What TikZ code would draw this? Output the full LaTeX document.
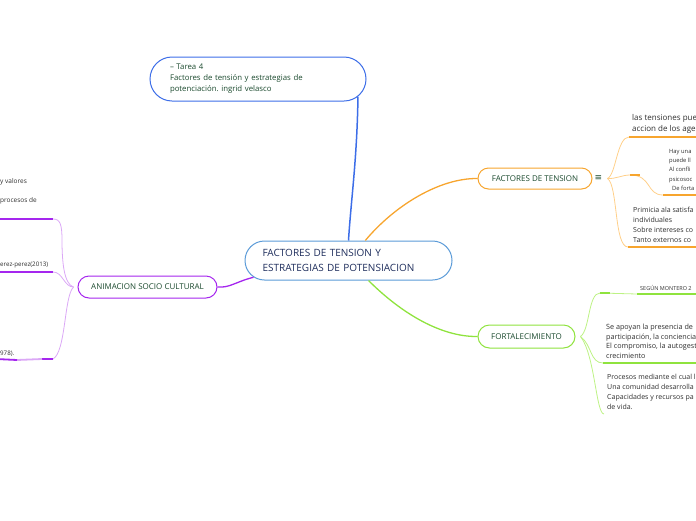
\documentclass[tikz,border=0pt]{standalone}
\usepackage{fontspec}
\setmainfont{Open Sans}
\newfontfamily\symbfont{DejaVu Sans}
\usetikzlibrary{
    positioning,
    shapes.misc
}
\frenchspacing

\definecolor{txtgreen}{HTML}{1B4A2E}
\definecolor{txtnavy}{HTML}{1E2D5C}
\definecolor{txtgray}{HTML}{2E2E2E}
\definecolor{mapblue}{HTML}{3D6EE8}
\definecolor{lightblue}{HTML}{5B9BD8}
\definecolor{maporange}{HTML}{F7A52E}
\definecolor{paleorange}{HTML}{FFD08A}
\definecolor{mapgreen}{HTML}{8FE33E}
\definecolor{palegreen}{HTML}{BDF284}
\definecolor{mappurple}{HTML}{A526EE}
\definecolor{palepurple}{HTML}{DBA8F6}

\begin{document}
\begin{tikzpicture}[x=1pt, y=-1pt,
    pill/.style={rounded rectangle, draw, line width=1pt, fill=white,
        inner sep=0pt, text=txtgreen, font=\fontsize{8}{10}\selectfont},
    leaf/.style={anchor=south west, inner xsep=3pt, inner ysep=4pt,
        align=left, text=txtgray},
    twig/.style={line width=0.8pt},
    under/.style={line width=1.8pt}]
    \useasboundingbox (0,0) rectangle (696,520);
    \clip (0,0) rectangle (696,520);
    \coordinate (rimR) at (700,0);
    \coordinate (rimL) at (-4,0);

    % central topic and task note
    \node[pill, draw=mapblue, minimum width=216, minimum height=44,
        text width=176, align=left, font=\fontsize{7.8}{11}\selectfont]
        (task) at (258,79)
        {– Tarea 4\\Factores de tensión y estrategias de\\potenciación. ingrid velasco};
    \node[pill, draw=lightblue, minimum width=207, minimum height=39,
        text width=172, align=left, text=txtnavy, font=\fontsize{10}{15}\selectfont]
        (core) at (348.5,260.5)
        {FACTORES DE TENSION Y\\ESTRATEGIAS DE POTENSIACION};

    % main branches
    \node[pill, draw=maporange, minimum width=114, minimum height=21]
        (tension) at (535,178.5) {FACTORES DE TENSION};
    \node[pill, draw=mapgreen, minimum width=97, minimum height=23]
        (fort) at (526.5,336.5) {FORTALECIMIENTO};
    \node[pill, draw=mappurple, minimum width=139, minimum height=22]
        (anim) at (147.5,287) {ANIMACION SOCIO CULTURAL};

    \draw[mapblue, line width=1.5pt] (task.-10) .. controls (357,160) and (351,200) .. (core.north);
    \draw[maporange, line width=1.3pt] (core.50) .. controls (395,205) and (440,178) .. (tension.west);
    \draw[mapgreen, line width=1.3pt] (core.-45) .. controls (400,312) and (440,337) .. (fort.west);
    \draw[mappurple, line width=1.3pt] (core.190) .. controls (235,282) and (230,288) .. (anim.east);

    % factores de tension
    \node[right=2pt of tension, inner sep=0pt, text=txtgreen,
        font=\symbfont\fontsize{9}{9}\selectfont] (fold1) {≡};
    \coordinate[right=5pt of fold1] (fork1);
    \node[leaf, font=\fontsize{8}{11.6}\selectfont, inner ysep=3pt]
        (ten1) at (629,137) {las tensiones pue\\accion de los age};
    \node[leaf, font=\fontsize{5.8}{9.4}\selectfont, inner xsep=6pt]
        (ten2) at (663,195) {Hay una\\puede ll\\Al confli\\psicosoc\\\hspace*{3pt}De forta};
    \node[leaf, font=\fontsize{7}{10}\selectfont, inner xsep=5pt]
        (ten3) at (628,247) {Primicia ala satisfa\\individuales\\Sobre intereses co\\Tanto externos co};
    \draw[paleorange, twig] (fork1) .. controls (616,175) and (617,137) .. (ten1.south west);
    \draw[paleorange, twig] (fork1) .. controls (616,179) and (622,175) .. (630,175)
        .. controls (652,175) and (646,195) .. (ten2.south west);
    \draw[maporange, under] (630,175) -- (640,175);
    \draw[paleorange, twig] (fork1) .. controls (618,185) and (614,247) .. (ten3.south west);
    \foreach \t in {ten1, ten2, ten3}
        \draw[maporange, under] (\t.south west) -- (\t.south west -| rimR);

    % fortalecimiento
    \coordinate[right=5pt of fort] (fork2);
    \node[leaf, font=\fontsize{5.5}{7}\selectfont, inner ysep=3pt]
        (fo1) at (637,294) {SEGÚN MONTERO 2};
    \node[leaf, font=\fontsize{7.2}{9.8}\selectfont]
        (fo2) at (603,363) {Se apoyan la presencia de\\participación, la conciencia\\El compromiso, la autogest\\crecimiento};
    \node[leaf, font=\fontsize{7}{10.2}\selectfont]
        (fo3) at (604,414) {Procesos mediante el cual l\\Una comunidad desarrolla\\Capacidades y recursos pa\\de vida.};
    \draw[palegreen, twig] (fork2) .. controls (590,330) and (588,293) .. (600,293) -- (fo1.south west);
    \draw[mapgreen, under] (600,293) -- (610,293);
    \draw[palegreen, twig] (fork2) .. controls (592,345) and (590,363) .. (fo2.south west);
    \draw[palegreen, twig] (fork2) .. controls (595,355) and (596,414) .. (fo3.south west);
    \foreach \t in {fo1, fo2}
        \draw[mapgreen, under] (\t.south west) -- (\t.south west -| rimR);

    % animacion socio cultural
    \coordinate[left=4pt of anim] (fork3);
    \coordinate (cap1) at (53,219);
    \coordinate (cap2) at (53,272);
    \coordinate (cap3) at (53,359);
    \node[anchor=north west, inner sep=0pt, align=left, text=txtgray,
        font=\fontsize{6.5}{9.5}\selectfont] (an1) at (0,178) {y valores\\[9.5pt]procesos de};
    \node[anchor=base west, inner sep=0pt, text=txtgray,
        font=\fontsize{6.2}{8}\selectfont] (an2) at (0,266) {erez-perez(2013)};
    \node[anchor=base west, inner sep=0pt, text=txtgray,
        font=\fontsize{6.2}{8}\selectfont] (an3) at (0,355) {978).};
    \draw[palepurple, twig] (fork3) .. controls (64,284) and (62,262) .. (62,240)
        .. controls (62,224) and (60,219) .. (cap1);
    \draw[palepurple, twig] (fork3) .. controls (64,287) and (63,272) .. (cap2);
    \draw[palepurple, twig] (fork3) .. controls (64,296) and (66,352) .. (cap3);
    \draw[mappurple, under] (cap1) -- (cap1 -| rimL);
    \draw[mappurple, under] (cap2) -- (cap2 -| rimL);
    \draw[mappurple, under] (cap3) -- (42,359);
    \draw[palepurple, under] (42,359) -- (17,360);
    \draw[mappurple, under] (17,360) -- (cap3 -| rimL);
\end{tikzpicture}
\end{document}
